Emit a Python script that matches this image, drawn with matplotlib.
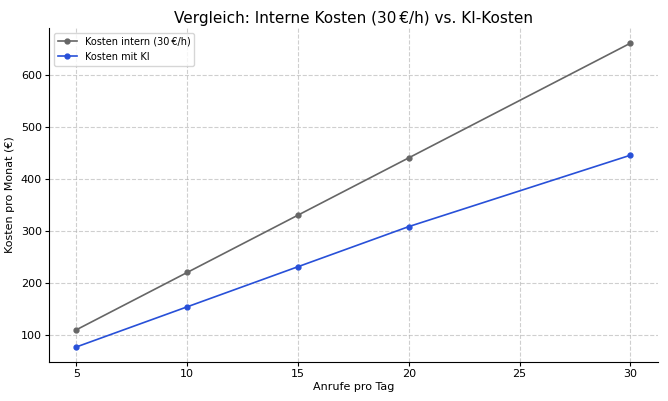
import matplotlib
matplotlib.use("Agg")
import matplotlib.pyplot as plt

anrufe = [5, 10, 15, 20, 30]
kosten_intern = [110, 220, 330, 440, 660]
kosten_ki = [77, 154, 231, 308, 445]

fig, ax = plt.subplots(figsize=(6.68, 4.01), dpi=100)
ax.plot(anrufe, kosten_intern, marker='o', markersize=3.5, lw=1.2, color='#666666', label='Kosten intern (30\u202f€/h)')
ax.plot(anrufe, kosten_ki, marker='o', markersize=3.5, lw=1.2, color='#2850d8', label='Kosten mit KI')
ax.set_title('Vergleich: Interne Kosten (30\u202f€/h) vs. KI-Kosten', fontsize=11, pad=4)
ax.set_xlabel('Anrufe pro Tag', fontsize=8, labelpad=2)
ax.set_ylabel('Kosten pro Monat (€)', fontsize=8, labelpad=4)
ax.tick_params(labelsize=8, length=3, pad=2)
ax.set_yticks([100, 200, 300, 400, 500, 600])
ax.grid(True, linestyle='--', alpha=0.6)
ax.spines['top'].set_visible(False)
ax.spines['right'].set_visible(False)
ax.legend(fontsize=7, loc='upper left')
fig.subplots_adjust(left=0.073, right=0.985, top=0.93, bottom=0.097)
fig.savefig('out.png', dpi=100)
